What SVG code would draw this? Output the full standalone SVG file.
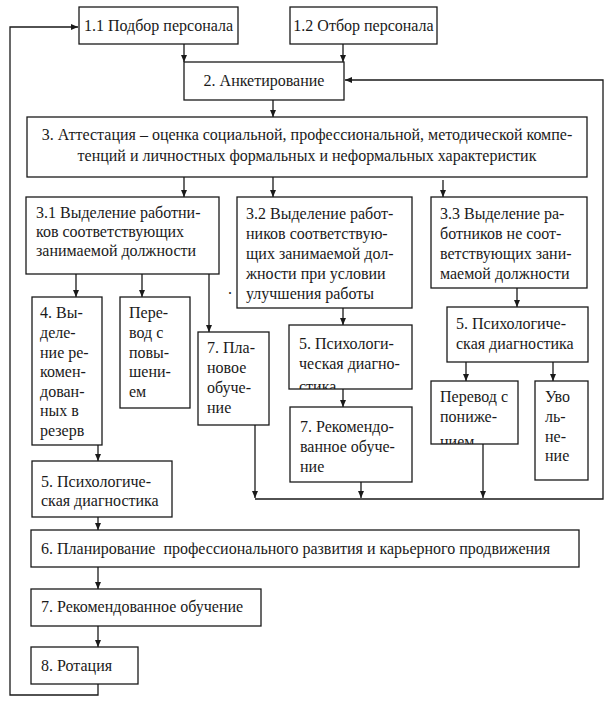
<svg xmlns="http://www.w3.org/2000/svg" width="613" height="706" viewBox="0 0 613 706">
<style>
.b{fill:#fff;stroke:#1a1a1a;stroke-width:1.3}
.c{text-anchor:middle}
.l{fill:none;stroke:#1a1a1a;stroke-width:1.3}
text{font-family:'Liberation Serif','Tinos','Noto Serif','DejaVu Serif','FreeSerif','Times New Roman',Times,serif;font-size:16px;fill:#1a1a1a}
</style>
<defs>
<marker id="a" markerWidth="8" markerHeight="8" refX="7" refY="4" orient="auto" markerUnits="userSpaceOnUse">
<path d="M0,1 L7,4 L0,7 z" fill="#1a1a1a"/>
</marker>
<clipPath id="k1"><rect x="289" y="325" width="123" height="64"/></clipPath>
<clipPath id="k2"><rect x="431" y="381" width="87" height="63"/></clipPath>
</defs>
<rect width="613" height="706" fill="#fff"/>
<g id="connectors">
<path class="l" d="M98,684 V695 H10 V27 H78" marker-end="url(#a)"/>
<path class="l" d="M184,44 V62" marker-end="url(#a)"/>
<path class="l" d="M343,44 V62" marker-end="url(#a)"/>
<path class="l" d="M255,499 H603 V80 H345" marker-end="url(#a)"/>
<path class="l" d="M255,425 V498" marker-end="url(#a)"/>
<path class="l" d="M361,482 V498" marker-end="url(#a)"/>
<path class="l" d="M483,444 V498" marker-end="url(#a)"/>
<path class="l" d="M273,100 V117" marker-end="url(#a)"/>
<path class="l" d="M184,177 V197" marker-end="url(#a)"/>
<path class="l" d="M273,177 V197" marker-end="url(#a)"/>
<path class="l" d="M443,180 V197" marker-end="url(#a)"/>
<path class="l" d="M76,274 V297" marker-end="url(#a)"/>
<path class="l" d="M142,274 V297" marker-end="url(#a)"/>
<path class="l" d="M209,274 V332" marker-end="url(#a)"/>
<path class="l" d="M343,308 V325" marker-end="url(#a)"/>
<path class="l" d="M343,389 V407" marker-end="url(#a)"/>
<path class="l" d="M517,288 V307" marker-end="url(#a)"/>
<path class="l" d="M466,362 V381" marker-end="url(#a)"/>
<path class="l" d="M553,362 V381" marker-end="url(#a)"/>
<path class="l" d="M98,445 V461" marker-end="url(#a)"/>
<path class="l" d="M98,517 V530" marker-end="url(#a)"/>
<path class="l" d="M98,567 V589" marker-end="url(#a)"/>
<path class="l" d="M98,626 V647" marker-end="url(#a)"/>
</g>
<g id="n11"><rect class="b" x="79" y="7" width="159" height="37"/><text class="c" x="158.5" y="31">1.1 Подбор персонала</text></g>
<g id="n12"><rect class="b" x="290" y="7" width="147" height="37"/><text class="c" x="363.5" y="31">1.2 Отбор персонала</text></g>
<g id="n2"><rect class="b" x="184" y="62" width="160" height="38"/><text class="c" x="264" y="86">2. Анкетирование</text></g>
<g id="n3"><rect class="b" x="27" y="117" width="560" height="60"/>
<text class="c" x="307" y="140">3. Аттестация – оценка социальной, профессиональной, методической компе-</text>
<text class="c" x="307" y="161">тенций и личностных формальных и неформальных характеристик</text></g>
<g id="n31"><rect class="b" x="26" y="197" width="193" height="77"/>
<text x="36" y="218">3.1 Выделение работни-</text>
<text x="36" y="237">ков соответствующих</text>
<text x="36" y="256">занимаемой должности</text></g>
<g id="n32"><rect class="b" x="237" y="197" width="175" height="111"/>
<text x="246" y="219">3.2 Выделение работ-</text>
<text x="246" y="239">ников соответствую-</text>
<text x="246" y="259">щих занимаемой дол-</text>
<text x="246" y="279">жности при условии</text>
<text x="246" y="299">улучшения работы</text></g>
<g id="n33"><rect class="b" x="431" y="197" width="156" height="91"/>
<text x="440" y="219">3.3 Выделение ра-</text>
<text x="440" y="239">ботников не соот-</text>
<text x="440" y="259">ветствующих зани-</text>
<text x="440" y="279">маемой должности</text></g>
<text x="228" y="294">.</text>
<g id="n4"><rect class="b" x="32" y="297" width="70" height="148"/>
<text x="40" y="318">4. Вы-</text>
<text x="40" y="338">деле-</text>
<text x="40" y="358">ние ре-</text>
<text x="40" y="377">комен-</text>
<text x="40" y="397">дован-</text>
<text x="40" y="416">ных в</text>
<text x="40" y="436">резерв</text></g>
<g id="nup"><rect class="b" x="120" y="297" width="70" height="111"/>
<text x="129" y="318">Пере-</text>
<text x="129" y="338">вод с</text>
<text x="129" y="358">повы-</text>
<text x="129" y="377">шени-</text>
<text x="129" y="397">ем</text></g>
<g id="n7p"><rect class="b" x="198" y="332" width="71" height="93"/>
<text x="207" y="353">7. Пла-</text>
<text x="207" y="373">новое</text>
<text x="207" y="393">обуче-</text>
<text x="207" y="413">ние</text></g>
<g id="n5b"><rect class="b" x="289" y="325" width="123" height="64"/>
<g clip-path="url(#k1)">
<text x="299" y="349">5. Психологи-</text>
<text x="299" y="369">ческая диагно-</text>
<text x="299" y="392">стика</text></g></g>
<g id="n7b"><rect class="b" x="290" y="407" width="122" height="75"/>
<text x="300" y="432">7. Рекомендо-</text>
<text x="300" y="452">ванное обуче-</text>
<text x="300" y="472">ние</text></g>
<g id="n5c"><rect class="b" x="447" y="307" width="141" height="55"/>
<text x="456" y="329">5. Психологиче-</text>
<text x="456" y="349">ская диагностика</text></g>
<g id="ndown"><rect class="b" x="431" y="381" width="87" height="63"/>
<g clip-path="url(#k2)">
<text x="440" y="402">Перевод с</text>
<text x="440" y="422">пониже-</text>
<text x="440" y="447">нием</text></g></g>
<g id="nfire"><rect class="b" x="535" y="381" width="53" height="99"/>
<text x="545" y="402">Уво</text>
<text x="545" y="422">ль-</text>
<text x="545" y="442">не-</text>
<text x="545" y="461">ние</text></g>
<g id="n5a"><rect class="b" x="32" y="461" width="140" height="56"/>
<text x="41" y="487">5. Психологиче-</text>
<text x="41" y="506">ская диагностика</text></g>
<g id="n6"><rect class="b" x="31" y="530" width="548" height="37"/>
<text x="41" y="554" xml:space="preserve">6. Планирование  профессионального развития и карьерного продвижения</text></g>
<g id="n7a"><rect class="b" x="31" y="589" width="230" height="37"/>
<text x="41" y="612">7. Рекомендованное обучение</text></g>
<g id="n8"><rect class="b" x="31" y="647" width="107" height="37"/>
<text x="41" y="671">8. Ротация</text></g>
</svg>
